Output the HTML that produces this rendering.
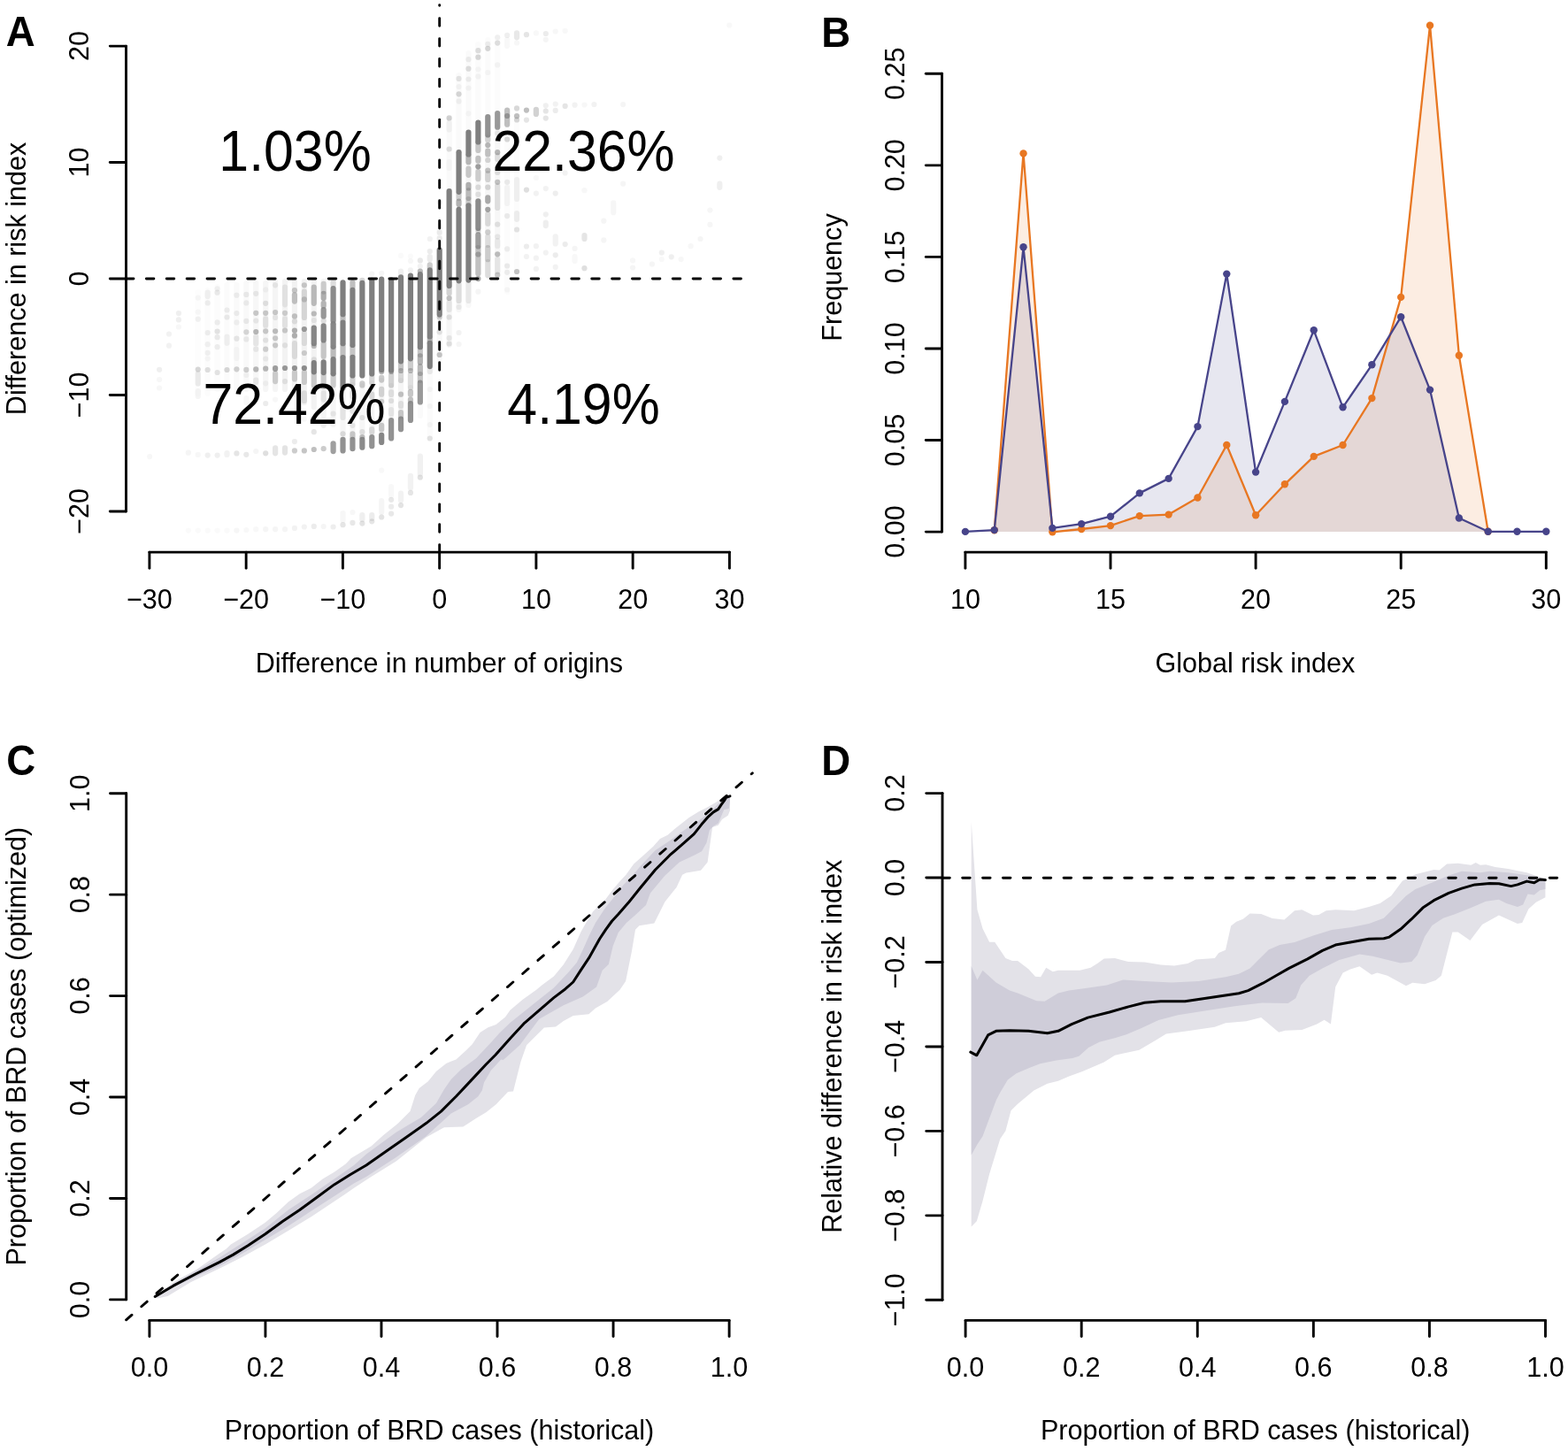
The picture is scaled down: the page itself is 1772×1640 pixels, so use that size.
<!DOCTYPE html>
<html><head><meta charset="utf-8"><title>Figure</title><style>html,body{margin:0;padding:0;background:#fff}svg{display:block}</style></head><body>
<svg width="1772" height="1640" viewBox="0 0 1772 1640" font-family="'Liberation Sans', Arial, Helvetica, sans-serif">
<rect width="1772" height="1640" fill="#fff"/>
<g stroke="#7f7f7f" stroke-linecap="round" stroke-width="6.20" fill="none">
<line x1="223.75" y1="330" x2="223.75" y2="445" stroke-opacity="0.015"/>
<line x1="234.67" y1="328" x2="234.67" y2="445" stroke-opacity="0.020"/>
<line x1="245.59" y1="324" x2="245.59" y2="440" stroke-opacity="0.025"/>
<line x1="256.5" y1="322" x2="256.5" y2="440" stroke-opacity="0.030"/>
<line x1="267.42" y1="322" x2="267.42" y2="440" stroke-opacity="0.035"/>
<line x1="278.34" y1="320" x2="278.34" y2="440" stroke-opacity="0.045"/>
<line x1="289.26" y1="320" x2="289.26" y2="438" stroke-opacity="0.060"/>
<line x1="300.18" y1="320" x2="300.18" y2="440" stroke-opacity="0.070"/>
<line x1="311.09" y1="318" x2="311.09" y2="440" stroke-opacity="0.080"/>
<line x1="322.01" y1="318" x2="322.01" y2="440" stroke-opacity="0.090"/>
<line x1="332.93" y1="318" x2="332.93" y2="445" stroke-opacity="0.100"/>
<line x1="343.85" y1="318" x2="343.85" y2="455" stroke-opacity="0.100"/>
<line x1="354.77" y1="318" x2="354.77" y2="460" stroke-opacity="0.100"/>
<line x1="365.68" y1="318" x2="365.68" y2="470" stroke-opacity="0.080"/>
<line x1="376.6" y1="318" x2="376.6" y2="480" stroke-opacity="0.070"/>
<line x1="387.52" y1="440" x2="387.52" y2="495" stroke-opacity="0.070"/>
<line x1="398.44" y1="435" x2="398.44" y2="495" stroke-opacity="0.070"/>
<line x1="409.36" y1="436" x2="409.36" y2="494" stroke-opacity="0.070"/>
<line x1="420.27" y1="433" x2="420.27" y2="494" stroke-opacity="0.070"/>
<line x1="431.19" y1="430" x2="431.19" y2="492" stroke-opacity="0.080"/>
<line x1="442.11" y1="436" x2="442.11" y2="475" stroke-opacity="0.080"/>
<line x1="453.03" y1="430" x2="453.03" y2="473" stroke-opacity="0.080"/>
<line x1="463.95" y1="438" x2="463.95" y2="456" stroke-opacity="0.080"/>
<line x1="474.86" y1="455" x2="474.86" y2="470" stroke-opacity="0.040"/>
<line x1="474.86" y1="515" x2="474.86" y2="540" stroke-opacity="0.030"/>
<line x1="485.78" y1="416" x2="485.78" y2="495" stroke-opacity="0.030"/>
<line x1="496.7" y1="356" x2="496.7" y2="405" stroke-opacity="0.050"/>
<line x1="496.7" y1="255" x2="496.7" y2="282" stroke-opacity="0.040"/>
<line x1="507.62" y1="135" x2="507.62" y2="216" stroke-opacity="0.040"/>
<line x1="507.62" y1="323" x2="507.62" y2="390" stroke-opacity="0.070"/>
<line x1="518.54" y1="85" x2="518.54" y2="172" stroke-opacity="0.040"/>
<line x1="518.54" y1="317" x2="518.54" y2="350" stroke-opacity="0.070"/>
<line x1="529.45" y1="60" x2="529.45" y2="150" stroke-opacity="0.040"/>
<line x1="529.45" y1="316" x2="529.45" y2="345" stroke-opacity="0.050"/>
<line x1="529.45" y1="174" x2="529.45" y2="232" stroke-opacity="0.080"/>
<line x1="540.37" y1="50" x2="540.37" y2="138" stroke-opacity="0.030"/>
<line x1="540.37" y1="160" x2="540.37" y2="315" stroke-opacity="0.070"/>
<line x1="551.29" y1="45" x2="551.29" y2="132" stroke-opacity="0.030"/>
<line x1="551.29" y1="152" x2="551.29" y2="312" stroke-opacity="0.070"/>
<line x1="562.21" y1="42" x2="562.21" y2="128" stroke-opacity="0.025"/>
<line x1="562.21" y1="143" x2="562.21" y2="312" stroke-opacity="0.060"/>
<line x1="573.13" y1="140" x2="573.13" y2="330" stroke-opacity="0.025"/>
<line x1="584.04" y1="135" x2="584.04" y2="310" stroke-opacity="0.020"/>
<line x1="169.16" y1="516.1" x2="169.16" y2="516.11" stroke-opacity="0.06"/>
<line x1="180.08" y1="417.8" x2="180.08" y2="417.81" stroke-opacity="0.12"/>
<line x1="180.08" y1="429" x2="180.08" y2="429.01" stroke-opacity="0.06"/>
<line x1="180.08" y1="438.5" x2="180.08" y2="438.51" stroke-opacity="0.06"/>
<line x1="191" y1="377.5" x2="191" y2="377.51" stroke-opacity="0.10"/>
<line x1="191" y1="390.7" x2="191" y2="390.71" stroke-opacity="0.10"/>
<line x1="201.91" y1="354.1" x2="201.91" y2="354.11" stroke-opacity="0.12"/>
<line x1="201.91" y1="361.4" x2="201.91" y2="361.41" stroke-opacity="0.12"/>
<line x1="201.91" y1="369.5" x2="201.91" y2="369.51" stroke-opacity="0.06"/>
<line x1="212.83" y1="511.7" x2="212.83" y2="511.71" stroke-opacity="0.08"/>
<line x1="212.83" y1="599.6" x2="212.83" y2="599.61" stroke-opacity="0.04"/>
<line x1="223.75" y1="336.6" x2="223.75" y2="336.61" stroke-opacity="0.06"/>
<line x1="223.75" y1="352.7" x2="223.75" y2="352.71" stroke-opacity="0.05"/>
<line x1="223.75" y1="360.7" x2="223.75" y2="360.71" stroke-opacity="0.10"/>
<line x1="223.75" y1="417.5" x2="223.75" y2="417.51" stroke-opacity="0.30"/>
<line x1="223.75" y1="422.4" x2="223.75" y2="433.4" stroke-opacity="0.15"/>
<line x1="223.75" y1="442.2" x2="223.75" y2="448" stroke-opacity="0.08"/>
<line x1="223.75" y1="513.9" x2="223.75" y2="513.91" stroke-opacity="0.06"/>
<line x1="223.75" y1="599.6" x2="223.75" y2="599.61" stroke-opacity="0.04"/>
<line x1="234.67" y1="330.7" x2="234.67" y2="335.1" stroke-opacity="0.10"/>
<line x1="234.67" y1="342.4" x2="234.67" y2="342.41" stroke-opacity="0.12"/>
<line x1="234.67" y1="376.1" x2="234.67" y2="376.11" stroke-opacity="0.12"/>
<line x1="234.67" y1="389.2" x2="234.67" y2="389.21" stroke-opacity="0.10"/>
<line x1="234.67" y1="398.8" x2="234.67" y2="398.81" stroke-opacity="0.10"/>
<line x1="234.67" y1="405.3" x2="234.67" y2="405.31" stroke-opacity="0.06"/>
<line x1="234.67" y1="418" x2="234.67" y2="418.01" stroke-opacity="0.25"/>
<line x1="234.67" y1="514.6" x2="234.67" y2="514.61" stroke-opacity="0.12"/>
<line x1="234.67" y1="599.6" x2="234.67" y2="599.61" stroke-opacity="0.04"/>
<line x1="245.59" y1="326.3" x2="245.59" y2="326.31" stroke-opacity="0.10"/>
<line x1="245.59" y1="330.7" x2="245.59" y2="330.71" stroke-opacity="0.15"/>
<line x1="245.59" y1="364.4" x2="245.59" y2="364.41" stroke-opacity="0.12"/>
<line x1="245.59" y1="374.6" x2="245.59" y2="374.61" stroke-opacity="0.20"/>
<line x1="245.59" y1="381.2" x2="245.59" y2="381.21" stroke-opacity="0.15"/>
<line x1="245.59" y1="392.2" x2="245.59" y2="392.21" stroke-opacity="0.12"/>
<line x1="245.59" y1="421" x2="245.59" y2="421.01" stroke-opacity="0.20"/>
<line x1="245.59" y1="514.6" x2="245.59" y2="514.61" stroke-opacity="0.12"/>
<line x1="245.59" y1="599.6" x2="245.59" y2="599.61" stroke-opacity="0.04"/>
<line x1="256.5" y1="350.5" x2="256.5" y2="350.51" stroke-opacity="0.12"/>
<line x1="256.5" y1="358.5" x2="256.5" y2="358.51" stroke-opacity="0.15"/>
<line x1="256.5" y1="380.5" x2="256.5" y2="387.8" stroke-opacity="0.10"/>
<line x1="256.5" y1="418" x2="256.5" y2="418.01" stroke-opacity="0.30"/>
<line x1="256.5" y1="512" x2="256.5" y2="514" stroke-opacity="0.10"/>
<line x1="256.5" y1="599.6" x2="256.5" y2="599.61" stroke-opacity="0.04"/>
<line x1="267.42" y1="333.7" x2="267.42" y2="333.71" stroke-opacity="0.12"/>
<line x1="267.42" y1="354.1" x2="267.42" y2="354.11" stroke-opacity="0.12"/>
<line x1="267.42" y1="364.4" x2="267.42" y2="364.41" stroke-opacity="0.10"/>
<line x1="267.42" y1="382.7" x2="267.42" y2="382.71" stroke-opacity="0.18"/>
<line x1="267.42" y1="395" x2="267.42" y2="405" stroke-opacity="0.05"/>
<line x1="267.42" y1="417.3" x2="267.42" y2="417.31" stroke-opacity="0.35"/>
<line x1="267.42" y1="512.4" x2="267.42" y2="512.41" stroke-opacity="0.20"/>
<line x1="267.42" y1="599.6" x2="267.42" y2="599.61" stroke-opacity="0.07"/>
<line x1="278.34" y1="332.9" x2="278.34" y2="332.91" stroke-opacity="0.15"/>
<line x1="278.34" y1="342.4" x2="278.34" y2="342.41" stroke-opacity="0.12"/>
<line x1="278.34" y1="362.9" x2="278.34" y2="362.91" stroke-opacity="0.15"/>
<line x1="278.34" y1="375.3" x2="278.34" y2="375.31" stroke-opacity="0.30"/>
<line x1="278.34" y1="383.4" x2="278.34" y2="383.41" stroke-opacity="0.15"/>
<line x1="278.34" y1="417.9" x2="278.34" y2="417.91" stroke-opacity="0.35"/>
<line x1="278.34" y1="424" x2="278.34" y2="424.01" stroke-opacity="0.08"/>
<line x1="278.34" y1="450" x2="278.34" y2="455" stroke-opacity="0.05"/>
<line x1="278.34" y1="513.8" x2="278.34" y2="513.81" stroke-opacity="0.18"/>
<line x1="278.34" y1="599" x2="278.34" y2="599.01" stroke-opacity="0.05"/>
<line x1="289.26" y1="331.8" x2="289.26" y2="331.81" stroke-opacity="0.15"/>
<line x1="289.26" y1="353.8" x2="289.26" y2="353.81" stroke-opacity="0.40"/>
<line x1="289.26" y1="362.5" x2="289.26" y2="362.51" stroke-opacity="0.15"/>
<line x1="289.26" y1="375" x2="289.26" y2="375.01" stroke-opacity="0.55"/>
<line x1="289.26" y1="380.8" x2="289.26" y2="388.2" stroke-opacity="0.15"/>
<line x1="289.26" y1="394.7" x2="289.26" y2="394.71" stroke-opacity="0.15"/>
<line x1="289.26" y1="417.4" x2="289.26" y2="417.41" stroke-opacity="0.55"/>
<line x1="289.26" y1="429.6" x2="289.26" y2="431.8" stroke-opacity="0.15"/>
<line x1="289.26" y1="510" x2="289.26" y2="510.01" stroke-opacity="0.08"/>
<line x1="289.26" y1="598.2" x2="289.26" y2="598.21" stroke-opacity="0.05"/>
<line x1="300.18" y1="327.4" x2="300.18" y2="327.41" stroke-opacity="0.08"/>
<line x1="300.18" y1="342.8" x2="300.18" y2="342.81" stroke-opacity="0.20"/>
<line x1="300.18" y1="353.8" x2="300.18" y2="353.81" stroke-opacity="0.40"/>
<line x1="300.18" y1="360.4" x2="300.18" y2="367.7" stroke-opacity="0.18"/>
<line x1="300.18" y1="374.3" x2="300.18" y2="374.31" stroke-opacity="0.40"/>
<line x1="300.18" y1="384.5" x2="300.18" y2="384.51" stroke-opacity="0.18"/>
<line x1="300.18" y1="394.7" x2="300.18" y2="394.71" stroke-opacity="0.35"/>
<line x1="300.18" y1="405.5" x2="300.18" y2="405.51" stroke-opacity="0.12"/>
<line x1="300.18" y1="416.7" x2="300.18" y2="416.71" stroke-opacity="0.55"/>
<line x1="300.18" y1="433.3" x2="300.18" y2="433.31" stroke-opacity="0.08"/>
<line x1="300.18" y1="456" x2="300.18" y2="456.01" stroke-opacity="0.15"/>
<line x1="300.18" y1="512.3" x2="300.18" y2="512.31" stroke-opacity="0.25"/>
<line x1="300.18" y1="598.2" x2="300.18" y2="598.21" stroke-opacity="0.08"/>
<line x1="311.09" y1="322.3" x2="311.09" y2="322.31" stroke-opacity="0.15"/>
<line x1="311.09" y1="353" x2="311.09" y2="353.01" stroke-opacity="0.40"/>
<line x1="311.09" y1="358.9" x2="311.09" y2="358.91" stroke-opacity="0.15"/>
<line x1="311.09" y1="374.3" x2="311.09" y2="374.31" stroke-opacity="0.50"/>
<line x1="311.09" y1="382.3" x2="311.09" y2="382.31" stroke-opacity="0.40"/>
<line x1="311.09" y1="390.3" x2="311.09" y2="390.31" stroke-opacity="0.40"/>
<line x1="311.09" y1="416" x2="311.09" y2="417" stroke-opacity="0.75"/>
<line x1="311.09" y1="422.3" x2="311.09" y2="431.1" stroke-opacity="0.35"/>
<line x1="311.09" y1="451.6" x2="311.09" y2="451.61" stroke-opacity="0.06"/>
<line x1="311.09" y1="506.4" x2="311.09" y2="512.3" stroke-opacity="0.20"/>
<line x1="311.09" y1="598.2" x2="311.09" y2="598.21" stroke-opacity="0.08"/>
<line x1="322.01" y1="324.5" x2="322.01" y2="344.3" stroke-opacity="0.15"/>
<line x1="322.01" y1="353.8" x2="322.01" y2="353.81" stroke-opacity="0.35"/>
<line x1="322.01" y1="360.4" x2="322.01" y2="367.7" stroke-opacity="0.15"/>
<line x1="322.01" y1="373.5" x2="322.01" y2="373.51" stroke-opacity="0.40"/>
<line x1="322.01" y1="390.3" x2="322.01" y2="390.31" stroke-opacity="0.18"/>
<line x1="322.01" y1="416" x2="322.01" y2="416.01" stroke-opacity="0.80"/>
<line x1="322.01" y1="431.1" x2="322.01" y2="431.11" stroke-opacity="0.18"/>
<line x1="322.01" y1="506.4" x2="322.01" y2="511.6" stroke-opacity="0.22"/>
<line x1="322.01" y1="598.2" x2="322.01" y2="598.21" stroke-opacity="0.08"/>
<line x1="332.93" y1="328.2" x2="332.93" y2="328.21" stroke-opacity="0.40"/>
<line x1="332.93" y1="333.3" x2="332.93" y2="340.6" stroke-opacity="0.45"/>
<line x1="332.93" y1="357.4" x2="332.93" y2="357.41" stroke-opacity="0.45"/>
<line x1="332.93" y1="363.3" x2="332.93" y2="363.31" stroke-opacity="0.20"/>
<line x1="332.93" y1="373.5" x2="332.93" y2="373.51" stroke-opacity="0.60"/>
<line x1="332.93" y1="379.4" x2="332.93" y2="379.41" stroke-opacity="0.60"/>
<line x1="332.93" y1="388" x2="332.93" y2="402.8" stroke-opacity="0.20"/>
<line x1="332.93" y1="416" x2="332.93" y2="416.01" stroke-opacity="0.85"/>
<line x1="332.93" y1="421" x2="332.93" y2="428.4" stroke-opacity="0.35"/>
<line x1="332.93" y1="499.1" x2="332.93" y2="499.11" stroke-opacity="0.15"/>
<line x1="332.93" y1="509.4" x2="332.93" y2="509.41" stroke-opacity="0.40"/>
<line x1="332.93" y1="596.9" x2="332.93" y2="596.91" stroke-opacity="0.10"/>
<line x1="343.85" y1="322.3" x2="343.85" y2="322.31" stroke-opacity="0.40"/>
<line x1="343.85" y1="329.6" x2="343.85" y2="358.9" stroke-opacity="0.25"/>
<line x1="343.85" y1="338.4" x2="343.85" y2="338.41" stroke-opacity="0.40"/>
<line x1="343.85" y1="372" x2="343.85" y2="372.01" stroke-opacity="0.80"/>
<line x1="343.85" y1="377" x2="343.85" y2="388" stroke-opacity="0.20"/>
<line x1="343.85" y1="399" x2="343.85" y2="399.01" stroke-opacity="0.35"/>
<line x1="343.85" y1="416" x2="343.85" y2="416.01" stroke-opacity="0.90"/>
<line x1="343.85" y1="421" x2="343.85" y2="432" stroke-opacity="0.35"/>
<line x1="343.85" y1="444.3" x2="343.85" y2="453" stroke-opacity="0.20"/>
<line x1="343.85" y1="473.5" x2="343.85" y2="473.51" stroke-opacity="0.06"/>
<line x1="343.85" y1="509.4" x2="343.85" y2="509.41" stroke-opacity="0.45"/>
<line x1="343.85" y1="595.5" x2="343.85" y2="595.51" stroke-opacity="0.10"/>
<line x1="354.77" y1="324.5" x2="354.77" y2="342.8" stroke-opacity="0.50"/>
<line x1="354.77" y1="354.5" x2="354.77" y2="354.51" stroke-opacity="0.50"/>
<line x1="354.77" y1="362" x2="354.77" y2="362.01" stroke-opacity="0.15"/>
<line x1="354.77" y1="370.6" x2="354.77" y2="388.2" stroke-opacity="0.95"/>
<line x1="354.77" y1="391" x2="354.77" y2="391.01" stroke-opacity="0.50"/>
<line x1="354.77" y1="406.4" x2="354.77" y2="406.41" stroke-opacity="0.20"/>
<line x1="354.77" y1="410" x2="354.77" y2="420.3" stroke-opacity="1.00"/>
<line x1="354.77" y1="422.3" x2="354.77" y2="435.5" stroke-opacity="0.35"/>
<line x1="354.77" y1="488.2" x2="354.77" y2="488.21" stroke-opacity="0.20"/>
<line x1="354.77" y1="508" x2="354.77" y2="508.01" stroke-opacity="0.50"/>
<line x1="354.77" y1="594.9" x2="354.77" y2="594.91" stroke-opacity="0.15"/>
<line x1="365.68" y1="320.9" x2="365.68" y2="329.6" stroke-opacity="0.35"/>
<line x1="365.68" y1="331.8" x2="365.68" y2="337" stroke-opacity="0.60"/>
<line x1="365.68" y1="342.8" x2="365.68" y2="345.7" stroke-opacity="0.55"/>
<line x1="365.68" y1="350.1" x2="365.68" y2="357.4" stroke-opacity="0.80"/>
<line x1="365.68" y1="362.5" x2="365.68" y2="362.51" stroke-opacity="0.20"/>
<line x1="365.68" y1="368.4" x2="365.68" y2="384.5" stroke-opacity="0.95"/>
<line x1="365.68" y1="388" x2="365.68" y2="402.8" stroke-opacity="0.40"/>
<line x1="365.68" y1="409.4" x2="365.68" y2="421.1" stroke-opacity="1.00"/>
<line x1="365.68" y1="422.3" x2="365.68" y2="437" stroke-opacity="0.35"/>
<line x1="365.68" y1="444.3" x2="365.68" y2="451.6" stroke-opacity="0.15"/>
<line x1="365.68" y1="480.8" x2="365.68" y2="480.81" stroke-opacity="0.12"/>
<line x1="365.68" y1="507.2" x2="365.68" y2="507.21" stroke-opacity="0.40"/>
<line x1="365.68" y1="595" x2="365.68" y2="595.01" stroke-opacity="0.08"/>
<line x1="376.6" y1="319.4" x2="376.6" y2="322.3" stroke-opacity="0.20"/>
<line x1="376.6" y1="326" x2="376.6" y2="362.5" stroke-opacity="0.90"/>
<line x1="376.6" y1="366.2" x2="376.6" y2="391.8" stroke-opacity="0.95"/>
<line x1="376.6" y1="393" x2="376.6" y2="402.8" stroke-opacity="0.50"/>
<line x1="376.6" y1="406" x2="376.6" y2="422.3" stroke-opacity="1.00"/>
<line x1="376.6" y1="423" x2="376.6" y2="435.5" stroke-opacity="0.35"/>
<line x1="376.6" y1="467.7" x2="376.6" y2="467.71" stroke-opacity="0.15"/>
<line x1="376.6" y1="501.3" x2="376.6" y2="510.1" stroke-opacity="0.75"/>
<line x1="376.6" y1="595.5" x2="376.6" y2="595.51" stroke-opacity="0.13"/>
<line x1="387.52" y1="319.4" x2="387.52" y2="355.2" stroke-opacity="1.00"/>
<line x1="387.52" y1="357.4" x2="387.52" y2="362.5" stroke-opacity="0.50"/>
<line x1="387.52" y1="364.7" x2="387.52" y2="388.2" stroke-opacity="1.00"/>
<line x1="387.52" y1="390" x2="387.52" y2="402.8" stroke-opacity="0.50"/>
<line x1="387.52" y1="404.2" x2="387.52" y2="438.4" stroke-opacity="1.00"/>
<line x1="387.52" y1="461.8" x2="387.52" y2="472" stroke-opacity="0.15"/>
<line x1="387.52" y1="490.3" x2="387.52" y2="490.31" stroke-opacity="0.25"/>
<line x1="387.52" y1="496.9" x2="387.52" y2="509.5" stroke-opacity="0.85"/>
<line x1="387.52" y1="580" x2="387.52" y2="588" stroke-opacity="0.06"/>
<line x1="387.52" y1="593.2" x2="387.52" y2="593.21" stroke-opacity="0.20"/>
<line x1="398.44" y1="319" x2="398.44" y2="324.9" stroke-opacity="0.50"/>
<line x1="398.44" y1="327.8" x2="398.44" y2="390" stroke-opacity="1.00"/>
<line x1="398.44" y1="391.4" x2="398.44" y2="402.4" stroke-opacity="0.45"/>
<line x1="398.44" y1="403.9" x2="398.44" y2="424.5" stroke-opacity="1.00"/>
<line x1="398.44" y1="426" x2="398.44" y2="434" stroke-opacity="0.35"/>
<line x1="398.44" y1="444" x2="398.44" y2="448" stroke-opacity="0.15"/>
<line x1="398.44" y1="461.8" x2="398.44" y2="464.7" stroke-opacity="0.15"/>
<line x1="398.44" y1="480.8" x2="398.44" y2="480.81" stroke-opacity="0.15"/>
<line x1="398.44" y1="490.3" x2="398.44" y2="494" stroke-opacity="0.40"/>
<line x1="398.44" y1="496.9" x2="398.44" y2="507.2" stroke-opacity="0.85"/>
<line x1="398.44" y1="579" x2="398.44" y2="579.01" stroke-opacity="0.06"/>
<line x1="398.44" y1="590.9" x2="398.44" y2="590.91" stroke-opacity="0.18"/>
<line x1="409.36" y1="316.8" x2="409.36" y2="316.81" stroke-opacity="0.30"/>
<line x1="409.36" y1="319.8" x2="409.36" y2="424.5" stroke-opacity="1.00"/>
<line x1="409.36" y1="433.3" x2="409.36" y2="435.5" stroke-opacity="0.40"/>
<line x1="409.36" y1="472" x2="409.36" y2="472.01" stroke-opacity="0.20"/>
<line x1="409.36" y1="488.2" x2="409.36" y2="488.21" stroke-opacity="0.20"/>
<line x1="409.36" y1="494" x2="409.36" y2="494.01" stroke-opacity="0.50"/>
<line x1="409.36" y1="496.9" x2="409.36" y2="505.7" stroke-opacity="0.90"/>
<line x1="409.36" y1="582.2" x2="409.36" y2="586.9" stroke-opacity="0.12"/>
<line x1="409.36" y1="591.6" x2="409.36" y2="591.61" stroke-opacity="0.22"/>
<line x1="420.27" y1="309.5" x2="420.27" y2="309.51" stroke-opacity="0.08"/>
<line x1="420.27" y1="316.8" x2="420.27" y2="422.5" stroke-opacity="1.00"/>
<line x1="420.27" y1="425.2" x2="420.27" y2="432.6" stroke-opacity="0.30"/>
<line x1="420.27" y1="445.7" x2="420.27" y2="448.7" stroke-opacity="0.25"/>
<line x1="420.27" y1="485.2" x2="420.27" y2="488.2" stroke-opacity="0.25"/>
<line x1="420.27" y1="494" x2="420.27" y2="504.2" stroke-opacity="0.85"/>
<line x1="420.27" y1="582" x2="420.27" y2="586" stroke-opacity="0.15"/>
<line x1="420.27" y1="589.3" x2="420.27" y2="589.31" stroke-opacity="0.20"/>
<line x1="431.19" y1="308.8" x2="431.19" y2="308.81" stroke-opacity="0.08"/>
<line x1="431.19" y1="315.7" x2="431.19" y2="418" stroke-opacity="1.00"/>
<line x1="431.19" y1="420" x2="431.19" y2="420.01" stroke-opacity="0.60"/>
<line x1="431.19" y1="426.7" x2="431.19" y2="429.6" stroke-opacity="0.40"/>
<line x1="431.19" y1="439.9" x2="431.19" y2="445.7" stroke-opacity="0.30"/>
<line x1="431.19" y1="453.8" x2="431.19" y2="453.81" stroke-opacity="0.35"/>
<line x1="431.19" y1="462" x2="431.19" y2="462.01" stroke-opacity="0.15"/>
<line x1="431.19" y1="480.8" x2="431.19" y2="485.2" stroke-opacity="0.40"/>
<line x1="431.19" y1="491.8" x2="431.19" y2="499.9" stroke-opacity="0.95"/>
<line x1="431.19" y1="531.6" x2="431.19" y2="531.61" stroke-opacity="0.05"/>
<line x1="431.19" y1="566" x2="431.19" y2="579" stroke-opacity="0.08"/>
<line x1="431.19" y1="584.5" x2="431.19" y2="584.51" stroke-opacity="0.22"/>
<line x1="442.11" y1="316.3" x2="442.11" y2="418.5" stroke-opacity="1.00"/>
<line x1="442.11" y1="420" x2="442.11" y2="420.01" stroke-opacity="0.60"/>
<line x1="442.11" y1="423.8" x2="442.11" y2="435.5" stroke-opacity="0.35"/>
<line x1="442.11" y1="443" x2="442.11" y2="446" stroke-opacity="0.20"/>
<line x1="442.11" y1="453" x2="442.11" y2="453.01" stroke-opacity="0.20"/>
<line x1="442.11" y1="463" x2="442.11" y2="468" stroke-opacity="0.15"/>
<line x1="442.11" y1="475" x2="442.11" y2="495.5" stroke-opacity="0.85"/>
<line x1="442.11" y1="550" x2="442.11" y2="560" stroke-opacity="0.05"/>
<line x1="442.11" y1="564.8" x2="442.11" y2="564.81" stroke-opacity="0.18"/>
<line x1="442.11" y1="572.7" x2="442.11" y2="572.71" stroke-opacity="0.15"/>
<line x1="442.11" y1="580.6" x2="442.11" y2="580.61" stroke-opacity="0.18"/>
<line x1="453.03" y1="288.9" x2="453.03" y2="288.91" stroke-opacity="0.04"/>
<line x1="453.03" y1="306.6" x2="453.03" y2="309.6" stroke-opacity="0.12"/>
<line x1="453.03" y1="313.3" x2="453.03" y2="408.3" stroke-opacity="1.00"/>
<line x1="453.03" y1="409.7" x2="453.03" y2="416" stroke-opacity="0.45"/>
<line x1="453.03" y1="419" x2="453.03" y2="419.01" stroke-opacity="0.55"/>
<line x1="453.03" y1="422" x2="453.03" y2="430" stroke-opacity="0.30"/>
<line x1="453.03" y1="445.7" x2="453.03" y2="445.71" stroke-opacity="0.45"/>
<line x1="453.03" y1="456" x2="453.03" y2="459" stroke-opacity="0.20"/>
<line x1="453.03" y1="466.2" x2="453.03" y2="470.6" stroke-opacity="0.40"/>
<line x1="453.03" y1="473.5" x2="453.03" y2="485.2" stroke-opacity="0.85"/>
<line x1="453.03" y1="557.7" x2="453.03" y2="565.6" stroke-opacity="0.10"/>
<line x1="453.03" y1="571.1" x2="453.03" y2="571.11" stroke-opacity="0.22"/>
<line x1="463.95" y1="289.5" x2="463.95" y2="289.51" stroke-opacity="0.04"/>
<line x1="463.95" y1="295" x2="463.95" y2="295.01" stroke-opacity="0.06"/>
<line x1="463.95" y1="305.4" x2="463.95" y2="305.41" stroke-opacity="0.10"/>
<line x1="463.95" y1="311.5" x2="463.95" y2="405.3" stroke-opacity="1.00"/>
<line x1="463.95" y1="408.3" x2="463.95" y2="416" stroke-opacity="0.40"/>
<line x1="463.95" y1="419" x2="463.95" y2="419.01" stroke-opacity="0.50"/>
<line x1="463.95" y1="423" x2="463.95" y2="438" stroke-opacity="0.25"/>
<line x1="463.95" y1="442.8" x2="463.95" y2="445.7" stroke-opacity="0.40"/>
<line x1="463.95" y1="451.6" x2="463.95" y2="452.8" stroke-opacity="0.45"/>
<line x1="463.95" y1="456" x2="463.95" y2="475" stroke-opacity="0.85"/>
<line x1="463.95" y1="537.9" x2="463.95" y2="551.4" stroke-opacity="0.10"/>
<line x1="463.95" y1="556.9" x2="463.95" y2="556.91" stroke-opacity="0.20"/>
<line x1="474.86" y1="294.4" x2="474.86" y2="294.41" stroke-opacity="0.18"/>
<line x1="474.86" y1="301.1" x2="474.86" y2="301.11" stroke-opacity="0.10"/>
<line x1="474.86" y1="306.6" x2="474.86" y2="306.61" stroke-opacity="0.55"/>
<line x1="474.86" y1="310.2" x2="474.86" y2="392.2" stroke-opacity="1.00"/>
<line x1="474.86" y1="393.6" x2="474.86" y2="401" stroke-opacity="0.45"/>
<line x1="474.86" y1="402.4" x2="474.86" y2="409.7" stroke-opacity="0.60"/>
<line x1="474.86" y1="414" x2="474.86" y2="422" stroke-opacity="0.55"/>
<line x1="474.86" y1="423" x2="474.86" y2="430" stroke-opacity="0.45"/>
<line x1="474.86" y1="432.6" x2="474.86" y2="454.5" stroke-opacity="0.80"/>
<line x1="474.86" y1="515.8" x2="474.86" y2="535.6" stroke-opacity="0.08"/>
<line x1="474.86" y1="539.5" x2="474.86" y2="539.51" stroke-opacity="0.20"/>
<line x1="485.78" y1="270" x2="485.78" y2="270.01" stroke-opacity="0.10"/>
<line x1="485.78" y1="284" x2="485.78" y2="284.01" stroke-opacity="0.15"/>
<line x1="485.78" y1="290.1" x2="485.78" y2="293.2" stroke-opacity="0.15"/>
<line x1="485.78" y1="299.3" x2="485.78" y2="302.3" stroke-opacity="0.40"/>
<line x1="485.78" y1="305.4" x2="485.78" y2="380.5" stroke-opacity="1.00"/>
<line x1="485.78" y1="382" x2="485.78" y2="387.8" stroke-opacity="0.60"/>
<line x1="485.78" y1="387.8" x2="485.78" y2="414.1" stroke-opacity="1.00"/>
<line x1="485.78" y1="416" x2="485.78" y2="420" stroke-opacity="0.15"/>
<line x1="485.78" y1="440" x2="485.78" y2="440.01" stroke-opacity="0.06"/>
<line x1="485.78" y1="459" x2="485.78" y2="459.01" stroke-opacity="0.06"/>
<line x1="485.78" y1="480" x2="485.78" y2="480.01" stroke-opacity="0.06"/>
<line x1="485.78" y1="495.5" x2="485.78" y2="495.51" stroke-opacity="0.20"/>
<line x1="496.7" y1="228.8" x2="496.7" y2="228.81" stroke-opacity="0.08"/>
<line x1="496.7" y1="262.7" x2="496.7" y2="262.71" stroke-opacity="0.12"/>
<line x1="496.7" y1="269.4" x2="496.7" y2="269.41" stroke-opacity="0.12"/>
<line x1="496.7" y1="282.5" x2="496.7" y2="355.6" stroke-opacity="1.00"/>
<line x1="496.7" y1="358.5" x2="496.7" y2="358.51" stroke-opacity="0.35"/>
<line x1="496.7" y1="375.3" x2="496.7" y2="375.31" stroke-opacity="0.20"/>
<line x1="496.7" y1="401" x2="496.7" y2="401.01" stroke-opacity="0.45"/>
<line x1="507.62" y1="133.4" x2="507.62" y2="133.41" stroke-opacity="0.35"/>
<line x1="507.62" y1="139" x2="507.62" y2="146.6" stroke-opacity="0.08"/>
<line x1="507.62" y1="168.5" x2="507.62" y2="168.51" stroke-opacity="0.25"/>
<line x1="507.62" y1="183" x2="507.62" y2="190" stroke-opacity="0.05"/>
<line x1="507.62" y1="216.1" x2="507.62" y2="323.1" stroke-opacity="1.00"/>
<line x1="507.62" y1="326" x2="507.62" y2="331.2" stroke-opacity="0.30"/>
<line x1="507.62" y1="337" x2="507.62" y2="337.01" stroke-opacity="0.45"/>
<line x1="507.62" y1="342" x2="507.62" y2="350" stroke-opacity="0.15"/>
<line x1="507.62" y1="358.5" x2="507.62" y2="358.51" stroke-opacity="0.20"/>
<line x1="507.62" y1="382" x2="507.62" y2="382.01" stroke-opacity="0.15"/>
<line x1="507.62" y1="388.5" x2="507.62" y2="388.51" stroke-opacity="0.20"/>
<line x1="518.54" y1="88.9" x2="518.54" y2="88.91" stroke-opacity="0.20"/>
<line x1="518.54" y1="98" x2="518.54" y2="98.01" stroke-opacity="0.08"/>
<line x1="518.54" y1="106.3" x2="518.54" y2="106.31" stroke-opacity="0.30"/>
<line x1="518.54" y1="114.4" x2="518.54" y2="114.41" stroke-opacity="0.10"/>
<line x1="518.54" y1="172.2" x2="518.54" y2="216.8" stroke-opacity="1.00"/>
<line x1="518.54" y1="218.3" x2="518.54" y2="224.1" stroke-opacity="0.40"/>
<line x1="518.54" y1="227.5" x2="518.54" y2="231" stroke-opacity="0.60"/>
<line x1="518.54" y1="236.8" x2="518.54" y2="317.3" stroke-opacity="1.00"/>
<line x1="518.54" y1="321" x2="518.54" y2="340" stroke-opacity="0.20"/>
<line x1="518.54" y1="347" x2="518.54" y2="347.01" stroke-opacity="0.12"/>
<line x1="518.54" y1="376" x2="518.54" y2="376.01" stroke-opacity="0.10"/>
<line x1="518.54" y1="389" x2="518.54" y2="389.01" stroke-opacity="0.08"/>
<line x1="529.45" y1="67.2" x2="529.45" y2="67.21" stroke-opacity="0.12"/>
<line x1="529.45" y1="77.7" x2="529.45" y2="77.71" stroke-opacity="0.25"/>
<line x1="529.45" y1="89.5" x2="529.45" y2="89.51" stroke-opacity="0.12"/>
<line x1="529.45" y1="99.5" x2="529.45" y2="99.51" stroke-opacity="0.08"/>
<line x1="529.45" y1="128.3" x2="529.45" y2="128.31" stroke-opacity="0.05"/>
<line x1="529.45" y1="149.5" x2="529.45" y2="174.4" stroke-opacity="1.00"/>
<line x1="529.45" y1="175.8" x2="529.45" y2="183.2" stroke-opacity="0.55"/>
<line x1="529.45" y1="190.5" x2="529.45" y2="197.8" stroke-opacity="0.40"/>
<line x1="529.45" y1="208.8" x2="529.45" y2="212.4" stroke-opacity="0.60"/>
<line x1="529.45" y1="215.3" x2="529.45" y2="224.1" stroke-opacity="0.50"/>
<line x1="529.45" y1="225" x2="529.45" y2="231" stroke-opacity="0.35"/>
<line x1="529.45" y1="232.4" x2="529.45" y2="316.6" stroke-opacity="1.00"/>
<line x1="529.45" y1="319" x2="529.45" y2="340" stroke-opacity="0.12"/>
<line x1="540.37" y1="57.2" x2="540.37" y2="57.21" stroke-opacity="0.25"/>
<line x1="540.37" y1="64.7" x2="540.37" y2="64.71" stroke-opacity="0.30"/>
<line x1="540.37" y1="78.3" x2="540.37" y2="78.31" stroke-opacity="0.06"/>
<line x1="540.37" y1="86.4" x2="540.37" y2="86.41" stroke-opacity="0.08"/>
<line x1="540.37" y1="138.5" x2="540.37" y2="160.5" stroke-opacity="1.00"/>
<line x1="540.37" y1="161.2" x2="540.37" y2="170" stroke-opacity="0.40"/>
<line x1="540.37" y1="178.8" x2="540.37" y2="181.7" stroke-opacity="0.45"/>
<line x1="540.37" y1="188.3" x2="540.37" y2="188.31" stroke-opacity="0.75"/>
<line x1="540.37" y1="194.1" x2="540.37" y2="202.2" stroke-opacity="0.35"/>
<line x1="540.37" y1="211.7" x2="540.37" y2="211.71" stroke-opacity="0.25"/>
<line x1="540.37" y1="219.7" x2="540.37" y2="219.71" stroke-opacity="0.20"/>
<line x1="540.37" y1="227.3" x2="540.37" y2="258" stroke-opacity="0.90"/>
<line x1="540.37" y1="261" x2="540.37" y2="261.01" stroke-opacity="0.30"/>
<line x1="540.37" y1="265.4" x2="540.37" y2="278.5" stroke-opacity="0.75"/>
<line x1="540.37" y1="280" x2="540.37" y2="309.2" stroke-opacity="0.45"/>
<line x1="540.37" y1="287.5" x2="540.37" y2="287.51" stroke-opacity="0.60"/>
<line x1="540.37" y1="315.1" x2="540.37" y2="315.11" stroke-opacity="0.65"/>
<line x1="540.37" y1="329.7" x2="540.37" y2="329.71" stroke-opacity="0.08"/>
<line x1="551.29" y1="49.8" x2="551.29" y2="49.81" stroke-opacity="0.12"/>
<line x1="551.29" y1="54.8" x2="551.29" y2="54.81" stroke-opacity="0.30"/>
<line x1="551.29" y1="82" x2="551.29" y2="82.01" stroke-opacity="0.06"/>
<line x1="551.29" y1="132" x2="551.29" y2="152.4" stroke-opacity="0.85"/>
<line x1="551.29" y1="155.4" x2="551.29" y2="158.3" stroke-opacity="0.30"/>
<line x1="551.29" y1="164.1" x2="551.29" y2="164.11" stroke-opacity="0.55"/>
<line x1="551.29" y1="170.7" x2="551.29" y2="174.4" stroke-opacity="0.45"/>
<line x1="551.29" y1="181" x2="551.29" y2="181.01" stroke-opacity="0.30"/>
<line x1="551.29" y1="192.7" x2="551.29" y2="192.71" stroke-opacity="0.45"/>
<line x1="551.29" y1="196" x2="551.29" y2="203" stroke-opacity="0.30"/>
<line x1="551.29" y1="211.7" x2="551.29" y2="211.71" stroke-opacity="0.30"/>
<line x1="551.29" y1="223.4" x2="551.29" y2="227.3" stroke-opacity="0.65"/>
<line x1="551.29" y1="236.8" x2="551.29" y2="236.81" stroke-opacity="0.70"/>
<line x1="551.29" y1="242" x2="551.29" y2="253" stroke-opacity="0.25"/>
<line x1="551.29" y1="262.4" x2="551.29" y2="262.41" stroke-opacity="0.35"/>
<line x1="551.29" y1="267.5" x2="551.29" y2="277" stroke-opacity="0.20"/>
<line x1="551.29" y1="280" x2="551.29" y2="293.2" stroke-opacity="0.35"/>
<line x1="551.29" y1="296" x2="551.29" y2="311" stroke-opacity="0.20"/>
<line x1="562.21" y1="42.3" x2="562.21" y2="42.31" stroke-opacity="0.10"/>
<line x1="562.21" y1="48.6" x2="562.21" y2="48.61" stroke-opacity="0.25"/>
<line x1="562.21" y1="73.4" x2="562.21" y2="73.41" stroke-opacity="0.08"/>
<line x1="562.21" y1="128" x2="562.21" y2="143.7" stroke-opacity="0.80"/>
<line x1="562.21" y1="150.5" x2="562.21" y2="150.51" stroke-opacity="0.15"/>
<line x1="562.21" y1="172.2" x2="562.21" y2="172.21" stroke-opacity="0.55"/>
<line x1="562.21" y1="176" x2="562.21" y2="180" stroke-opacity="0.20"/>
<line x1="562.21" y1="195" x2="562.21" y2="195.01" stroke-opacity="0.20"/>
<line x1="562.21" y1="205.8" x2="562.21" y2="205.81" stroke-opacity="0.45"/>
<line x1="562.21" y1="210" x2="562.21" y2="235" stroke-opacity="0.20"/>
<line x1="562.21" y1="253.6" x2="562.21" y2="253.61" stroke-opacity="0.20"/>
<line x1="562.21" y1="267.5" x2="562.21" y2="267.51" stroke-opacity="0.15"/>
<line x1="562.21" y1="272" x2="562.21" y2="278" stroke-opacity="0.12"/>
<line x1="562.21" y1="287.3" x2="562.21" y2="287.31" stroke-opacity="0.50"/>
<line x1="562.21" y1="293" x2="562.21" y2="307" stroke-opacity="0.15"/>
<line x1="562.21" y1="310.7" x2="562.21" y2="310.71" stroke-opacity="0.40"/>
<line x1="573.13" y1="39.9" x2="573.13" y2="39.91" stroke-opacity="0.12"/>
<line x1="573.13" y1="45" x2="573.13" y2="52" stroke-opacity="0.05"/>
<line x1="573.13" y1="124.6" x2="573.13" y2="140.7" stroke-opacity="0.50"/>
<line x1="573.13" y1="131" x2="573.13" y2="131.01" stroke-opacity="0.70"/>
<line x1="573.13" y1="157.5" x2="573.13" y2="157.51" stroke-opacity="0.30"/>
<line x1="573.13" y1="205.8" x2="573.13" y2="205.81" stroke-opacity="0.15"/>
<line x1="573.13" y1="212" x2="573.13" y2="230" stroke-opacity="0.07"/>
<line x1="573.13" y1="244.1" x2="573.13" y2="244.11" stroke-opacity="0.15"/>
<line x1="573.13" y1="281.4" x2="573.13" y2="281.41" stroke-opacity="0.12"/>
<line x1="573.13" y1="300.5" x2="573.13" y2="300.51" stroke-opacity="0.15"/>
<line x1="573.13" y1="307.8" x2="573.13" y2="307.81" stroke-opacity="0.12"/>
<line x1="573.13" y1="327.5" x2="573.13" y2="327.51" stroke-opacity="0.06"/>
<line x1="584.04" y1="37.4" x2="584.04" y2="42.3" stroke-opacity="0.18"/>
<line x1="584.04" y1="48.5" x2="584.04" y2="48.51" stroke-opacity="0.06"/>
<line x1="584.04" y1="122.4" x2="584.04" y2="122.41" stroke-opacity="0.30"/>
<line x1="584.04" y1="131.2" x2="584.04" y2="131.21" stroke-opacity="0.50"/>
<line x1="584.04" y1="135.5" x2="584.04" y2="135.51" stroke-opacity="0.30"/>
<line x1="584.04" y1="203" x2="584.04" y2="225" stroke-opacity="0.10"/>
<line x1="584.04" y1="241.2" x2="584.04" y2="247.8" stroke-opacity="0.12"/>
<line x1="584.04" y1="259.5" x2="584.04" y2="259.51" stroke-opacity="0.20"/>
<line x1="584.04" y1="307" x2="584.04" y2="307.01" stroke-opacity="0.45"/>
<line x1="594.96" y1="39.2" x2="594.96" y2="39.21" stroke-opacity="0.20"/>
<line x1="594.96" y1="124.6" x2="594.96" y2="124.61" stroke-opacity="0.50"/>
<line x1="594.96" y1="135.6" x2="594.96" y2="135.61" stroke-opacity="0.20"/>
<line x1="594.96" y1="214.6" x2="594.96" y2="214.61" stroke-opacity="0.25"/>
<line x1="594.96" y1="278.5" x2="594.96" y2="278.51" stroke-opacity="0.15"/>
<line x1="594.96" y1="290" x2="594.96" y2="290.01" stroke-opacity="0.10"/>
<line x1="605.88" y1="37.4" x2="605.88" y2="37.41" stroke-opacity="0.05"/>
<line x1="605.88" y1="123.9" x2="605.88" y2="129" stroke-opacity="0.35"/>
<line x1="605.88" y1="201" x2="605.88" y2="201.01" stroke-opacity="0.05"/>
<line x1="605.88" y1="218.6" x2="605.88" y2="218.61" stroke-opacity="0.10"/>
<line x1="605.88" y1="278.2" x2="605.88" y2="278.21" stroke-opacity="0.10"/>
<line x1="605.88" y1="291.7" x2="605.88" y2="291.71" stroke-opacity="0.10"/>
<line x1="605.88" y1="303.9" x2="605.88" y2="303.91" stroke-opacity="0.10"/>
<line x1="616.8" y1="38" x2="616.8" y2="38.01" stroke-opacity="0.15"/>
<line x1="616.8" y1="44.8" x2="616.8" y2="44.81" stroke-opacity="0.08"/>
<line x1="616.8" y1="119.3" x2="616.8" y2="119.31" stroke-opacity="0.12"/>
<line x1="616.8" y1="125.5" x2="616.8" y2="125.51" stroke-opacity="0.20"/>
<line x1="616.8" y1="133.6" x2="616.8" y2="133.61" stroke-opacity="0.20"/>
<line x1="616.8" y1="213.1" x2="616.8" y2="213.11" stroke-opacity="0.10"/>
<line x1="616.8" y1="242.3" x2="616.8" y2="242.31" stroke-opacity="0.12"/>
<line x1="616.8" y1="251.7" x2="616.8" y2="255.1" stroke-opacity="0.13"/>
<line x1="616.8" y1="285.6" x2="616.8" y2="285.61" stroke-opacity="0.10"/>
<line x1="627.72" y1="35.5" x2="627.72" y2="35.51" stroke-opacity="0.06"/>
<line x1="627.72" y1="117.5" x2="627.72" y2="117.51" stroke-opacity="0.10"/>
<line x1="627.72" y1="124.9" x2="627.72" y2="124.91" stroke-opacity="0.15"/>
<line x1="627.72" y1="218.6" x2="627.72" y2="218.61" stroke-opacity="0.13"/>
<line x1="627.72" y1="267.3" x2="627.72" y2="275.4" stroke-opacity="0.10"/>
<line x1="627.72" y1="288.3" x2="627.72" y2="288.31" stroke-opacity="0.15"/>
<line x1="627.72" y1="301.9" x2="627.72" y2="301.91" stroke-opacity="0.10"/>
<line x1="638.63" y1="34.9" x2="638.63" y2="34.91" stroke-opacity="0.05"/>
<line x1="638.63" y1="119.9" x2="638.63" y2="119.91" stroke-opacity="0.20"/>
<line x1="638.63" y1="195.5" x2="638.63" y2="195.51" stroke-opacity="0.10"/>
<line x1="638.63" y1="276.1" x2="638.63" y2="276.11" stroke-opacity="0.15"/>
<line x1="649.55" y1="118.7" x2="649.55" y2="118.71" stroke-opacity="0.10"/>
<line x1="649.55" y1="280.9" x2="649.55" y2="280.91" stroke-opacity="0.08"/>
<line x1="649.55" y1="290" x2="649.55" y2="295" stroke-opacity="0.05"/>
<line x1="660.47" y1="118.5" x2="660.47" y2="118.51" stroke-opacity="0.06"/>
<line x1="660.47" y1="215.2" x2="660.47" y2="215.21" stroke-opacity="0.06"/>
<line x1="660.47" y1="266" x2="660.47" y2="270" stroke-opacity="0.20"/>
<line x1="660.47" y1="303.2" x2="660.47" y2="303.21" stroke-opacity="0.25"/>
<line x1="671.39" y1="118" x2="671.39" y2="118.01" stroke-opacity="0.10"/>
<line x1="682.31" y1="249.7" x2="682.31" y2="249.71" stroke-opacity="0.08"/>
<line x1="682.31" y1="271.4" x2="682.31" y2="271.41" stroke-opacity="0.08"/>
<line x1="693.22" y1="229.4" x2="693.22" y2="240.2" stroke-opacity="0.07"/>
<line x1="704.14" y1="118.1" x2="704.14" y2="118.11" stroke-opacity="0.08"/>
<line x1="704.14" y1="207.7" x2="704.14" y2="207.71" stroke-opacity="0.08"/>
<line x1="715.06" y1="294.4" x2="715.06" y2="294.41" stroke-opacity="0.06"/>
<line x1="715.06" y1="302.5" x2="715.06" y2="302.51" stroke-opacity="0.08"/>
<line x1="736.9" y1="298.5" x2="736.9" y2="298.51" stroke-opacity="0.08"/>
<line x1="747.81" y1="285.6" x2="747.81" y2="285.61" stroke-opacity="0.12"/>
<line x1="747.81" y1="293" x2="747.81" y2="293.01" stroke-opacity="0.05"/>
<line x1="758.73" y1="290.3" x2="758.73" y2="290.31" stroke-opacity="0.12"/>
<line x1="769.65" y1="293.1" x2="769.65" y2="293.11" stroke-opacity="0.06"/>
<line x1="780.57" y1="278.2" x2="780.57" y2="278.21" stroke-opacity="0.06"/>
<line x1="791.49" y1="270" x2="791.49" y2="270.01" stroke-opacity="0.08"/>
<line x1="802.4" y1="237.5" x2="802.4" y2="237.51" stroke-opacity="0.07"/>
<line x1="802.4" y1="253.8" x2="802.4" y2="253.81" stroke-opacity="0.07"/>
<line x1="813.32" y1="178.6" x2="813.32" y2="178.61" stroke-opacity="0.12"/>
<line x1="813.32" y1="207.7" x2="813.32" y2="211.8" stroke-opacity="0.12"/>
<line x1="824.24" y1="28.5" x2="824.24" y2="28.51" stroke-opacity="0.05"/>
</g>
<line x1="142.5" y1="315" x2="850.2" y2="315" stroke="#000" stroke-width="2.9" stroke-dasharray="8.5 14.38" stroke-linecap="round"/>
<line x1="496.7" y1="624.1" x2="496.7" y2="5.6" stroke="#000" stroke-width="2.9" stroke-dasharray="8.5 14.38" stroke-linecap="round"/>
<line x1="142.5" y1="52.1" x2="142.5" y2="578" stroke="#000" stroke-width="2.9" stroke-linecap="round"/>
<line x1="124.3" y1="52.1" x2="142.5" y2="52.1" stroke="#000" stroke-width="2.9" stroke-linecap="round"/>
<line x1="124.3" y1="183.5" x2="142.5" y2="183.5" stroke="#000" stroke-width="2.9" stroke-linecap="round"/>
<line x1="124.3" y1="315" x2="142.5" y2="315" stroke="#000" stroke-width="2.9" stroke-linecap="round"/>
<line x1="124.3" y1="446.5" x2="142.5" y2="446.5" stroke="#000" stroke-width="2.9" stroke-linecap="round"/>
<line x1="124.3" y1="578" x2="142.5" y2="578" stroke="#000" stroke-width="2.9" stroke-linecap="round"/>
<text transform="translate(100.3,52.1) rotate(-90) scale(0.97,1)" font-size="31.5" text-anchor="middle" font-weight="normal">20</text>
<text transform="translate(100.3,183.5) rotate(-90) scale(0.97,1)" font-size="31.5" text-anchor="middle" font-weight="normal">10</text>
<text transform="translate(100.3,315) rotate(-90) scale(0.97,1)" font-size="31.5" text-anchor="middle" font-weight="normal">0</text>
<text transform="translate(100.3,446.5) rotate(-90) scale(0.97,1)" font-size="31.5" text-anchor="middle" font-weight="normal">−10</text>
<text transform="translate(100.3,578) rotate(-90) scale(0.97,1)" font-size="31.5" text-anchor="middle" font-weight="normal">−20</text>
<line x1="168.9" y1="624.1" x2="824.4" y2="624.1" stroke="#000" stroke-width="2.9" stroke-linecap="round"/>
<line x1="168.9" y1="624.1" x2="168.9" y2="642.3" stroke="#000" stroke-width="2.9" stroke-linecap="round"/>
<line x1="278.15" y1="624.1" x2="278.15" y2="642.3" stroke="#000" stroke-width="2.9" stroke-linecap="round"/>
<line x1="387.4" y1="624.1" x2="387.4" y2="642.3" stroke="#000" stroke-width="2.9" stroke-linecap="round"/>
<line x1="496.65" y1="624.1" x2="496.65" y2="642.3" stroke="#000" stroke-width="2.9" stroke-linecap="round"/>
<line x1="605.9" y1="624.1" x2="605.9" y2="642.3" stroke="#000" stroke-width="2.9" stroke-linecap="round"/>
<line x1="715.15" y1="624.1" x2="715.15" y2="642.3" stroke="#000" stroke-width="2.9" stroke-linecap="round"/>
<line x1="824.4" y1="624.1" x2="824.4" y2="642.3" stroke="#000" stroke-width="2.9" stroke-linecap="round"/>
<text transform="translate(168.9,688.4) scale(0.97,1)" font-size="31.5" text-anchor="middle" font-weight="normal">−30</text>
<text transform="translate(278.15,688.4) scale(0.97,1)" font-size="31.5" text-anchor="middle" font-weight="normal">−20</text>
<text transform="translate(387.4,688.4) scale(0.97,1)" font-size="31.5" text-anchor="middle" font-weight="normal">−10</text>
<text transform="translate(496.65,688.4) scale(0.97,1)" font-size="31.5" text-anchor="middle" font-weight="normal">0</text>
<text transform="translate(605.9,688.4) scale(0.97,1)" font-size="31.5" text-anchor="middle" font-weight="normal">10</text>
<text transform="translate(715.15,688.4) scale(0.97,1)" font-size="31.5" text-anchor="middle" font-weight="normal">20</text>
<text transform="translate(824.4,688.4) scale(0.97,1)" font-size="31.5" text-anchor="middle" font-weight="normal">30</text>
<text transform="translate(496.4,759.5) scale(0.97,1)" font-size="31.5" text-anchor="middle" font-weight="normal">Difference in number of origins</text>
<text transform="translate(29,315) rotate(-90) scale(0.97,1)" font-size="31.5" text-anchor="middle" font-weight="normal">Difference in risk index</text>
<text transform="translate(333.5,193) scale(0.95,1)" font-size="64" text-anchor="middle" font-weight="normal">1.03%</text>
<text transform="translate(659.5,193) scale(0.95,1)" font-size="64" text-anchor="middle" font-weight="normal">22.36%</text>
<text transform="translate(332.5,478.9) scale(0.95,1)" font-size="64" text-anchor="middle" font-weight="normal">72.42%</text>
<text transform="translate(659.5,478.9) scale(0.95,1)" font-size="64" text-anchor="middle" font-weight="normal">4.19%</text>
<text transform="translate(6.8,52.4) scale(0.95,1)" font-size="48" text-anchor="start" font-weight="bold">A</text>
<polygon points="1090.9,601.1 1123.72,599.3 1156.54,173.4 1189.36,601.3 1222.18,598 1255,594.1 1287.82,583.1 1320.64,581.6 1353.46,562.5 1386.28,503 1419.1,582.3 1451.92,547.3 1484.74,515.9 1517.56,503 1550.38,450.1 1583.2,335.9 1616.02,28.7 1648.84,401.7 1681.66,600.8 1681.66,601.1 1090.9,601.1" fill="#e87722" fill-opacity="0.13" stroke="none"/>
<polygon points="1090.9,600.9 1123.72,599.1 1156.54,279.3 1189.36,596.9 1222.18,592.1 1255,583.7 1287.82,557.4 1320.64,540.9 1353.46,482.1 1386.28,309.6 1419.1,533.6 1451.92,453.9 1484.74,373.3 1517.56,460.3 1550.38,412.3 1583.2,358.2 1616.02,440.6 1648.84,585.5 1681.66,600.8 1714.48,600.8 1747.3,600.8 1747.3,601.1 1090.9,601.1" fill="#47448a" fill-opacity="0.13" stroke="none"/>
<polyline points="1123.72,599.3 1156.54,173.4 1189.36,601.3 1222.18,598 1255,594.1 1287.82,583.1 1320.64,581.6 1353.46,562.5 1386.28,503 1419.1,582.3 1451.92,547.3 1484.74,515.9 1517.56,503 1550.38,450.1 1583.2,335.9 1616.02,28.7 1648.84,401.7 1681.66,600.8" fill="none" stroke="#e87722" stroke-width="2.3" stroke-linejoin="round" stroke-linecap="round"/>
<circle cx="1123.72" cy="599.3" r="4.2" fill="#e87722"/>
<circle cx="1156.54" cy="173.4" r="4.2" fill="#e87722"/>
<circle cx="1189.36" cy="601.3" r="4.2" fill="#e87722"/>
<circle cx="1222.18" cy="598" r="4.2" fill="#e87722"/>
<circle cx="1255" cy="594.1" r="4.2" fill="#e87722"/>
<circle cx="1287.82" cy="583.1" r="4.2" fill="#e87722"/>
<circle cx="1320.64" cy="581.6" r="4.2" fill="#e87722"/>
<circle cx="1353.46" cy="562.5" r="4.2" fill="#e87722"/>
<circle cx="1386.28" cy="503" r="4.2" fill="#e87722"/>
<circle cx="1419.1" cy="582.3" r="4.2" fill="#e87722"/>
<circle cx="1451.92" cy="547.3" r="4.2" fill="#e87722"/>
<circle cx="1484.74" cy="515.9" r="4.2" fill="#e87722"/>
<circle cx="1517.56" cy="503" r="4.2" fill="#e87722"/>
<circle cx="1550.38" cy="450.1" r="4.2" fill="#e87722"/>
<circle cx="1583.2" cy="335.9" r="4.2" fill="#e87722"/>
<circle cx="1616.02" cy="28.7" r="4.2" fill="#e87722"/>
<circle cx="1648.84" cy="401.7" r="4.2" fill="#e87722"/>
<circle cx="1681.66" cy="600.8" r="4.2" fill="#e87722"/>
<polyline points="1090.9,600.9 1123.72,599.1 1156.54,279.3 1189.36,596.9 1222.18,592.1 1255,583.7 1287.82,557.4 1320.64,540.9 1353.46,482.1 1386.28,309.6 1419.1,533.6 1451.92,453.9 1484.74,373.3 1517.56,460.3 1550.38,412.3 1583.2,358.2 1616.02,440.6 1648.84,585.5 1681.66,600.8 1714.48,600.8 1747.3,600.8" fill="none" stroke="#47448a" stroke-width="2.3" stroke-linejoin="round" stroke-linecap="round"/>
<circle cx="1090.9" cy="600.9" r="4.2" fill="#47448a"/>
<circle cx="1123.72" cy="599.1" r="4.2" fill="#47448a"/>
<circle cx="1156.54" cy="279.3" r="4.2" fill="#47448a"/>
<circle cx="1189.36" cy="596.9" r="4.2" fill="#47448a"/>
<circle cx="1222.18" cy="592.1" r="4.2" fill="#47448a"/>
<circle cx="1255" cy="583.7" r="4.2" fill="#47448a"/>
<circle cx="1287.82" cy="557.4" r="4.2" fill="#47448a"/>
<circle cx="1320.64" cy="540.9" r="4.2" fill="#47448a"/>
<circle cx="1353.46" cy="482.1" r="4.2" fill="#47448a"/>
<circle cx="1386.28" cy="309.6" r="4.2" fill="#47448a"/>
<circle cx="1419.1" cy="533.6" r="4.2" fill="#47448a"/>
<circle cx="1451.92" cy="453.9" r="4.2" fill="#47448a"/>
<circle cx="1484.74" cy="373.3" r="4.2" fill="#47448a"/>
<circle cx="1517.56" cy="460.3" r="4.2" fill="#47448a"/>
<circle cx="1550.38" cy="412.3" r="4.2" fill="#47448a"/>
<circle cx="1583.2" cy="358.2" r="4.2" fill="#47448a"/>
<circle cx="1616.02" cy="440.6" r="4.2" fill="#47448a"/>
<circle cx="1648.84" cy="585.5" r="4.2" fill="#47448a"/>
<circle cx="1681.66" cy="600.8" r="4.2" fill="#47448a"/>
<circle cx="1714.48" cy="600.8" r="4.2" fill="#47448a"/>
<circle cx="1747.3" cy="600.8" r="4.2" fill="#47448a"/>
<line x1="1064.5" y1="601.1" x2="1064.5" y2="83.3" stroke="#000" stroke-width="2.9" stroke-linecap="round"/>
<line x1="1046.3" y1="601.1" x2="1064.5" y2="601.1" stroke="#000" stroke-width="2.9" stroke-linecap="round"/>
<line x1="1046.3" y1="497.54" x2="1064.5" y2="497.54" stroke="#000" stroke-width="2.9" stroke-linecap="round"/>
<line x1="1046.3" y1="393.98" x2="1064.5" y2="393.98" stroke="#000" stroke-width="2.9" stroke-linecap="round"/>
<line x1="1046.3" y1="290.42" x2="1064.5" y2="290.42" stroke="#000" stroke-width="2.9" stroke-linecap="round"/>
<line x1="1046.3" y1="186.86" x2="1064.5" y2="186.86" stroke="#000" stroke-width="2.9" stroke-linecap="round"/>
<line x1="1046.3" y1="83.3" x2="1064.5" y2="83.3" stroke="#000" stroke-width="2.9" stroke-linecap="round"/>
<text transform="translate(1022,601.1) rotate(-90) scale(0.97,1)" font-size="31.5" text-anchor="middle" font-weight="normal">0.00</text>
<text transform="translate(1022,497.54) rotate(-90) scale(0.97,1)" font-size="31.5" text-anchor="middle" font-weight="normal">0.05</text>
<text transform="translate(1022,393.98) rotate(-90) scale(0.97,1)" font-size="31.5" text-anchor="middle" font-weight="normal">0.10</text>
<text transform="translate(1022,290.42) rotate(-90) scale(0.97,1)" font-size="31.5" text-anchor="middle" font-weight="normal">0.15</text>
<text transform="translate(1022,186.86) rotate(-90) scale(0.97,1)" font-size="31.5" text-anchor="middle" font-weight="normal">0.20</text>
<text transform="translate(1022,83.3) rotate(-90) scale(0.97,1)" font-size="31.5" text-anchor="middle" font-weight="normal">0.25</text>
<line x1="1090.9" y1="624.1" x2="1747.3" y2="624.1" stroke="#000" stroke-width="2.9" stroke-linecap="round"/>
<line x1="1090.9" y1="624.1" x2="1090.9" y2="642.3" stroke="#000" stroke-width="2.9" stroke-linecap="round"/>
<line x1="1255" y1="624.1" x2="1255" y2="642.3" stroke="#000" stroke-width="2.9" stroke-linecap="round"/>
<line x1="1419.1" y1="624.1" x2="1419.1" y2="642.3" stroke="#000" stroke-width="2.9" stroke-linecap="round"/>
<line x1="1583.2" y1="624.1" x2="1583.2" y2="642.3" stroke="#000" stroke-width="2.9" stroke-linecap="round"/>
<line x1="1747.3" y1="624.1" x2="1747.3" y2="642.3" stroke="#000" stroke-width="2.9" stroke-linecap="round"/>
<text transform="translate(1090.9,688.4) scale(0.97,1)" font-size="31.5" text-anchor="middle" font-weight="normal">10</text>
<text transform="translate(1255,688.4) scale(0.97,1)" font-size="31.5" text-anchor="middle" font-weight="normal">15</text>
<text transform="translate(1419.1,688.4) scale(0.97,1)" font-size="31.5" text-anchor="middle" font-weight="normal">20</text>
<text transform="translate(1583.2,688.4) scale(0.97,1)" font-size="31.5" text-anchor="middle" font-weight="normal">25</text>
<text transform="translate(1747.3,688.4) scale(0.97,1)" font-size="31.5" text-anchor="middle" font-weight="normal">30</text>
<text transform="translate(1418.3,759.5) scale(0.97,1)" font-size="31.5" text-anchor="middle" font-weight="normal">Global risk index</text>
<text transform="translate(950.8,313.5) rotate(-90) scale(0.97,1)" font-size="31.5" text-anchor="middle" font-weight="normal">Frequency</text>
<text transform="translate(928.3,52.5) scale(0.95,1)" font-size="48" text-anchor="start" font-weight="bold">B</text>
<polygon points="175.2,1464.9 196,1449.3 221.9,1435 247.9,1416.8 255.7,1411.6 260.9,1406.4 280.3,1394.8 299.8,1381.8 312.8,1370.7 325.8,1358.4 338.7,1349.3 351.7,1342.8 364.7,1332.5 377.7,1324.7 390.7,1315.6 396.9,1309.1 419.5,1295.6 433,1283.2 450,1269.6 463.5,1256.1 469.2,1238 473.7,1230.1 483.8,1222.2 492.9,1211 504.2,1201.9 515.4,1197.4 526.7,1187.2 533.5,1180.5 542.5,1166.9 551.6,1161.3 560.6,1157.9 571,1149.5 576.5,1141.8 590.7,1129.8 606.1,1118.8 612.7,1113.3 625.9,1103.4 636.8,1090.2 647.8,1072.7 656.6,1052.9 661,1045.2 670.1,1030.2 684.1,1016.8 692.7,1005.2 700.6,996.1 707.4,988.7 716.2,976.6 726.1,967.8 738.2,956.8 745.9,948 754.6,943.7 762.3,937.1 778.8,923.9 789.8,917.3 800.7,911.8 811.7,905.2 822.7,900.3 824.5,899.5 824.9,900 824.9,916.2 822.7,921.7 816.1,926.1 811.7,932.7 805.1,934.9 799.6,974.4 792,983.7 775.5,986.5 771.1,988.7 764.5,1002.9 751.3,1019.4 739.3,1043.5 722.4,1046.3 718,1050.7 714,1075 707.1,1108.9 700.5,1118.8 686.2,1132 673,1139.6 665.4,1146.2 647.8,1147.9 636.8,1153.9 628,1160.5 614.9,1161.6 595.1,1181.3 588.5,1200 580,1233.5 574.1,1234.1 560.6,1248.2 549.3,1257.2 538,1264 523.3,1273.6 501.9,1274.2 481.6,1285.4 447.7,1312.5 419.5,1330 400,1342.8 390.7,1349.3 371.2,1362.3 351.7,1375.3 325.8,1390.9 299.8,1406.4 273.8,1420.7 247.9,1433.7 215.4,1449.3 189.5,1464.9 177.8,1467.4 175.2,1466.5" fill="#e3e2e8"/>
<polygon points="175.2,1465.1 196,1451.2 247.9,1421.4 273.8,1405.1 299.8,1388.3 325.8,1367.5 351.7,1350.6 377.7,1332.5 400,1316.9 413.9,1304.6 447.7,1279.8 475.9,1262.9 492.9,1247.1 501.9,1231.3 509.8,1220 521.1,1208.7 538,1196.3 554.9,1178.2 565,1167 576.5,1156.1 603.9,1134.1 625.9,1116.6 642.3,1099 651.8,1088 659.8,1071 666.5,1056 673,1043 684.1,1026 692.7,1015.6 704.9,999.8 712.9,992 723.9,978.8 740.4,961.2 756.8,950.2 773.3,938.2 789.8,927.2 800.7,919.5 811.7,908.5 822.7,902 824.5,900 824.9,900 824.9,905.2 823.8,914 818.3,915.1 811.7,930.5 806.2,933.8 801.8,938.2 798.5,952.4 793,962.3 784.3,966.7 767.8,974.4 751.3,989.8 734.9,1009.5 730,1022.9 717.1,1035.1 707.9,1043 698.8,1054 692.7,1069.3 687.8,1090 680.7,1096.8 674.1,1115.5 658.8,1126.5 636.8,1136.3 609.4,1151.7 587.4,1181.3 568.8,1198 566.2,1197.4 554.9,1209.8 547,1223.4 544.8,1232.4 540.3,1239.2 529,1248.2 509.8,1258.4 481.6,1284.3 447.7,1308 413.9,1330 400,1337.6 377.7,1351.9 351.7,1368.8 325.8,1385.7 299.8,1401.2 273.8,1416.8 247.9,1431.1 221.9,1442.8 196,1455.1 175.2,1466.1" fill="#cfcdd9"/>
<polyline points="175.2,1465.5 196,1453.2 221.9,1439.5 247.9,1426.6 263.5,1418.1 280.3,1407.7 299.8,1394.8 319.3,1380.5 338.7,1367.5 358.2,1353.2 377.7,1338.9 396,1327.5 413.9,1317 436.4,1301.2 459,1285.4 481.6,1269.6 498.5,1256.1 515.4,1239.2 532.4,1221.1 549.3,1203 560,1192.3 576.5,1173.7 592.9,1156.1 609.4,1141.8 625.9,1127.6 639,1117.7 647.7,1110 656.5,1096.4 665.6,1082.7 671.6,1072 677.6,1061.3 684.6,1050.6 691.6,1041 698.8,1033.3 711,1019.3 723.2,1004 740.4,983.2 756.8,966.7 773.3,952.4 784.3,942.6 793,931.6 800.7,922.8 806.2,917.9 811.7,914.6 815,909.6 818.3,905.2 820.5,901.4 824.9,899.8" fill="none" stroke="#000" stroke-width="3" stroke-linejoin="round" stroke-linecap="round"/>
<line x1="142.6" y1="1491.8" x2="850.3" y2="873.8" stroke="#000" stroke-width="2.9" stroke-dasharray="8.5 14.38" stroke-linecap="round"/>
<line x1="142.7" y1="1468.9" x2="142.7" y2="896.7" stroke="#000" stroke-width="2.9" stroke-linecap="round"/>
<line x1="124.5" y1="1468.9" x2="142.7" y2="1468.9" stroke="#000" stroke-width="2.9" stroke-linecap="round"/>
<line x1="124.5" y1="1354.46" x2="142.7" y2="1354.46" stroke="#000" stroke-width="2.9" stroke-linecap="round"/>
<line x1="124.5" y1="1240.02" x2="142.7" y2="1240.02" stroke="#000" stroke-width="2.9" stroke-linecap="round"/>
<line x1="124.5" y1="1125.58" x2="142.7" y2="1125.58" stroke="#000" stroke-width="2.9" stroke-linecap="round"/>
<line x1="124.5" y1="1011.14" x2="142.7" y2="1011.14" stroke="#000" stroke-width="2.9" stroke-linecap="round"/>
<line x1="124.5" y1="896.7" x2="142.7" y2="896.7" stroke="#000" stroke-width="2.9" stroke-linecap="round"/>
<text transform="translate(101,1468.9) rotate(-90) scale(0.97,1)" font-size="31.5" text-anchor="middle" font-weight="normal">0.0</text>
<text transform="translate(101,1354.46) rotate(-90) scale(0.97,1)" font-size="31.5" text-anchor="middle" font-weight="normal">0.2</text>
<text transform="translate(101,1240.02) rotate(-90) scale(0.97,1)" font-size="31.5" text-anchor="middle" font-weight="normal">0.4</text>
<text transform="translate(101,1125.58) rotate(-90) scale(0.97,1)" font-size="31.5" text-anchor="middle" font-weight="normal">0.6</text>
<text transform="translate(101,1011.14) rotate(-90) scale(0.97,1)" font-size="31.5" text-anchor="middle" font-weight="normal">0.8</text>
<text transform="translate(101,896.7) rotate(-90) scale(0.97,1)" font-size="31.5" text-anchor="middle" font-weight="normal">1.0</text>
<line x1="168.9" y1="1492.4" x2="824.1" y2="1492.4" stroke="#000" stroke-width="2.9" stroke-linecap="round"/>
<line x1="168.9" y1="1492.4" x2="168.9" y2="1510.6" stroke="#000" stroke-width="2.9" stroke-linecap="round"/>
<line x1="299.94" y1="1492.4" x2="299.94" y2="1510.6" stroke="#000" stroke-width="2.9" stroke-linecap="round"/>
<line x1="430.98" y1="1492.4" x2="430.98" y2="1510.6" stroke="#000" stroke-width="2.9" stroke-linecap="round"/>
<line x1="562.02" y1="1492.4" x2="562.02" y2="1510.6" stroke="#000" stroke-width="2.9" stroke-linecap="round"/>
<line x1="693.06" y1="1492.4" x2="693.06" y2="1510.6" stroke="#000" stroke-width="2.9" stroke-linecap="round"/>
<line x1="824.1" y1="1492.4" x2="824.1" y2="1510.6" stroke="#000" stroke-width="2.9" stroke-linecap="round"/>
<text transform="translate(168.9,1556.3) scale(0.97,1)" font-size="31.5" text-anchor="middle" font-weight="normal">0.0</text>
<text transform="translate(299.94,1556.3) scale(0.97,1)" font-size="31.5" text-anchor="middle" font-weight="normal">0.2</text>
<text transform="translate(430.98,1556.3) scale(0.97,1)" font-size="31.5" text-anchor="middle" font-weight="normal">0.4</text>
<text transform="translate(562.02,1556.3) scale(0.97,1)" font-size="31.5" text-anchor="middle" font-weight="normal">0.6</text>
<text transform="translate(693.06,1556.3) scale(0.97,1)" font-size="31.5" text-anchor="middle" font-weight="normal">0.8</text>
<text transform="translate(824.1,1556.3) scale(0.97,1)" font-size="31.5" text-anchor="middle" font-weight="normal">1.0</text>
<text transform="translate(496.5,1627.3) scale(0.97,1)" font-size="31.5" text-anchor="middle" font-weight="normal">Proportion of BRD cases (historical)</text>
<text transform="translate(29,1182.7) rotate(-90) scale(0.97,1)" font-size="31.5" text-anchor="middle" font-weight="normal">Proportion of BRD cases (optimized)</text>
<text transform="translate(7.2,875.6) scale(0.95,1)" font-size="48" text-anchor="start" font-weight="bold">C</text>
<polygon points="1097.7,929 1104.4,1028.1 1110.5,1049.4 1118.1,1064.7 1124.2,1064.7 1136.4,1083 1144,1086 1150.1,1086 1162.3,1095.2 1170,1103.7 1176.1,1104.3 1182.2,1093.7 1189.8,1098.2 1195.9,1096.7 1220.3,1096.7 1232.5,1093.7 1240.1,1089.1 1247.7,1083.6 1259.9,1083 1275.2,1087 1293.5,1087.6 1311.8,1090.6 1327,1091.5 1342.3,1089.1 1351.4,1084.5 1372.8,1083 1377.3,1076.9 1385,1073.8 1391.1,1046.4 1397.2,1041.8 1404.8,1038.8 1412.6,1032.4 1425.2,1033.1 1437.8,1038.1 1451.4,1039.4 1463,1029.3 1471.4,1028.2 1484,1034.5 1490.3,1033.9 1498.7,1029.3 1509.2,1028.2 1530.2,1029.3 1547,1025.1 1559.6,1020.9 1572.2,1012.5 1584.8,995.7 1599.5,988.3 1620.4,983.1 1626.7,983.5 1635.1,976.4 1647.7,975.7 1662.4,977.8 1667.7,975.1 1672.9,977.8 1679.2,977.2 1689.7,979.9 1704.4,982 1725.4,986.2 1746.4,993.6 1746.4,1014.2 1735.9,1019.8 1727.5,1027.2 1720.2,1042.9 1714.9,1044 1693.9,1034.5 1675,1045 1661.4,1062.9 1647.7,1053.4 1641.4,1053.4 1628.8,1102.8 1622.5,1108 1610,1112.2 1596.3,1110.7 1589,1114.3 1568,1102.8 1556.4,1099.6 1550.1,1101.7 1536.5,1092.3 1526,1095.4 1517.6,1099.6 1509.2,1115.4 1503.9,1157.4 1496.6,1152.7 1488.2,1157.4 1471.4,1164.1 1452.5,1164.7 1445.1,1166.8 1425.2,1150 1408.4,1154.2 1385,1156.2 1372.8,1160.7 1342.3,1165.3 1317.9,1168.4 1305.7,1176 1287.4,1186.7 1259.9,1192.8 1247.7,1200.4 1223.3,1211.1 1208.1,1216.6 1195.9,1221.7 1183.7,1224.8 1168.4,1232.4 1150.1,1247.7 1142.5,1255.3 1136.4,1278.2 1130.3,1287.3 1118.1,1326.9 1110.5,1357.5 1103.8,1380.3 1097.7,1386.4" fill="#e3e2e8"/>
<polygon points="1097.7,1092.1 1104.4,1107.4 1110.5,1096.7 1125.7,1110.4 1141,1119.6 1150.1,1122.6 1171.5,1131.2 1180.6,1131.8 1195.9,1122.6 1208.1,1119.6 1226.4,1117.1 1250.8,1113.5 1269.1,1107.4 1293.5,1108.9 1324,1110.4 1354.5,1108.9 1385,1104.3 1400,1100.7 1412.6,1094.4 1421,1086 1433.6,1073.4 1446.2,1068.1 1463,1065 1484,1057.6 1505,1050.9 1526,1048.2 1547,1044 1563.8,1037.7 1578.5,1023 1589,1012.5 1599.5,1005.1 1620.4,996.7 1637.2,989.4 1651.9,984.8 1672.9,986.2 1683.4,984.8 1704.4,986.2 1727.5,989.4 1746.4,994.6 1746.4,1005.1 1740.1,1006.2 1733.8,1011.4 1726.5,1010.4 1721.2,1022.6 1714.9,1025.1 1702.3,1020.9 1693.9,1016.7 1679.2,1018.8 1662.4,1026.1 1643.5,1033.5 1630.9,1037.7 1618.4,1046.1 1610,1058.7 1601.6,1079.7 1595.3,1087 1582.7,1088.5 1551.2,1080.7 1536.5,1078.6 1513.4,1084.9 1494.5,1094.4 1479.8,1102.8 1470.2,1113.6 1464.3,1128.2 1455.6,1134.1 1426.3,1133.4 1397,1137 1367.8,1141.4 1331.2,1147.3 1309.3,1153.1 1290,1162 1272.9,1169.3 1260.7,1172.9 1242.4,1177.8 1230.2,1183.9 1219.3,1193.7 1212,1196.1 1193.7,1198.5 1175.4,1202.2 1163.2,1207.1 1148.5,1213.2 1138.8,1220.5 1130.2,1235.1 1126,1243 1119.6,1259.9 1110.5,1284.3 1104.4,1293.4 1097.7,1305.6" fill="#cfcdd9"/>
<line x1="1064.8" y1="992.2" x2="1772" y2="992.2" stroke="#000" stroke-width="2.9" stroke-dasharray="8.5 14.38" stroke-linecap="round"/>
<polyline points="1096.8,1189.1 1103.8,1192.8 1116.6,1169.9 1125.7,1165.3 1141,1164.7 1162.3,1165.3 1183.7,1167.8 1195.9,1165.3 1211.1,1157.7 1229.4,1150.1 1253.8,1144 1275.2,1137.9 1293.5,1133.3 1311.8,1131.8 1339.2,1131.8 1369.7,1127.2 1400,1122.7 1410.5,1119.6 1427.3,1111.2 1442,1102.8 1456.7,1094.4 1477.7,1083.9 1494.5,1074.4 1509.2,1068.1 1526,1065 1547,1061.2 1563.8,1060.8 1570.1,1059.1 1582.7,1050.3 1595.3,1038.7 1607.9,1026.1 1620.4,1017.7 1637.2,1009.3 1651.9,1004.1 1666.6,999.9 1683.4,998.4 1693.9,998.8 1707.6,1001.6 1714.9,999.9 1725.4,996.1 1733.8,997.8 1740.1,994 1746.4,994.6" fill="none" stroke="#000" stroke-width="3" stroke-linejoin="round" stroke-linecap="round"/>
<line x1="1065" y1="1469.3" x2="1065" y2="896.6" stroke="#000" stroke-width="2.9" stroke-linecap="round"/>
<line x1="1046.8" y1="1469.3" x2="1065" y2="1469.3" stroke="#000" stroke-width="2.9" stroke-linecap="round"/>
<line x1="1046.8" y1="1373.85" x2="1065" y2="1373.85" stroke="#000" stroke-width="2.9" stroke-linecap="round"/>
<line x1="1046.8" y1="1278.4" x2="1065" y2="1278.4" stroke="#000" stroke-width="2.9" stroke-linecap="round"/>
<line x1="1046.8" y1="1182.95" x2="1065" y2="1182.95" stroke="#000" stroke-width="2.9" stroke-linecap="round"/>
<line x1="1046.8" y1="1087.5" x2="1065" y2="1087.5" stroke="#000" stroke-width="2.9" stroke-linecap="round"/>
<line x1="1046.8" y1="992.05" x2="1065" y2="992.05" stroke="#000" stroke-width="2.9" stroke-linecap="round"/>
<line x1="1046.8" y1="896.6" x2="1065" y2="896.6" stroke="#000" stroke-width="2.9" stroke-linecap="round"/>
<text transform="translate(1022.3,1469.3) rotate(-90) scale(0.97,1)" font-size="31.5" text-anchor="middle" font-weight="normal">−1.0</text>
<text transform="translate(1022.3,1373.85) rotate(-90) scale(0.97,1)" font-size="31.5" text-anchor="middle" font-weight="normal">−0.8</text>
<text transform="translate(1022.3,1278.4) rotate(-90) scale(0.97,1)" font-size="31.5" text-anchor="middle" font-weight="normal">−0.6</text>
<text transform="translate(1022.3,1182.95) rotate(-90) scale(0.97,1)" font-size="31.5" text-anchor="middle" font-weight="normal">−0.4</text>
<text transform="translate(1022.3,1087.5) rotate(-90) scale(0.97,1)" font-size="31.5" text-anchor="middle" font-weight="normal">−0.2</text>
<text transform="translate(1022.3,992.05) rotate(-90) scale(0.97,1)" font-size="31.5" text-anchor="middle" font-weight="normal">0.0</text>
<text transform="translate(1022.3,896.6) rotate(-90) scale(0.97,1)" font-size="31.5" text-anchor="middle" font-weight="normal">0.2</text>
<line x1="1091.1" y1="1492.4" x2="1746.5" y2="1492.4" stroke="#000" stroke-width="2.9" stroke-linecap="round"/>
<line x1="1091.1" y1="1492.4" x2="1091.1" y2="1510.6" stroke="#000" stroke-width="2.9" stroke-linecap="round"/>
<line x1="1222.18" y1="1492.4" x2="1222.18" y2="1510.6" stroke="#000" stroke-width="2.9" stroke-linecap="round"/>
<line x1="1353.26" y1="1492.4" x2="1353.26" y2="1510.6" stroke="#000" stroke-width="2.9" stroke-linecap="round"/>
<line x1="1484.34" y1="1492.4" x2="1484.34" y2="1510.6" stroke="#000" stroke-width="2.9" stroke-linecap="round"/>
<line x1="1615.42" y1="1492.4" x2="1615.42" y2="1510.6" stroke="#000" stroke-width="2.9" stroke-linecap="round"/>
<line x1="1746.5" y1="1492.4" x2="1746.5" y2="1510.6" stroke="#000" stroke-width="2.9" stroke-linecap="round"/>
<text transform="translate(1091.1,1556.3) scale(0.97,1)" font-size="31.5" text-anchor="middle" font-weight="normal">0.0</text>
<text transform="translate(1222.18,1556.3) scale(0.97,1)" font-size="31.5" text-anchor="middle" font-weight="normal">0.2</text>
<text transform="translate(1353.26,1556.3) scale(0.97,1)" font-size="31.5" text-anchor="middle" font-weight="normal">0.4</text>
<text transform="translate(1484.34,1556.3) scale(0.97,1)" font-size="31.5" text-anchor="middle" font-weight="normal">0.6</text>
<text transform="translate(1615.42,1556.3) scale(0.97,1)" font-size="31.5" text-anchor="middle" font-weight="normal">0.8</text>
<text transform="translate(1746.5,1556.3) scale(0.97,1)" font-size="31.5" text-anchor="middle" font-weight="normal">1.0</text>
<text transform="translate(1418.7,1627.3) scale(0.97,1)" font-size="31.5" text-anchor="middle" font-weight="normal">Proportion of BRD cases (historical)</text>
<text transform="translate(950.8,1182.7) rotate(-90) scale(0.97,1)" font-size="31.5" text-anchor="middle" font-weight="normal">Relative difference in risk index</text>
<text transform="translate(928.3,875.6) scale(0.95,1)" font-size="48" text-anchor="start" font-weight="bold">D</text>
</svg>
</body></html>
